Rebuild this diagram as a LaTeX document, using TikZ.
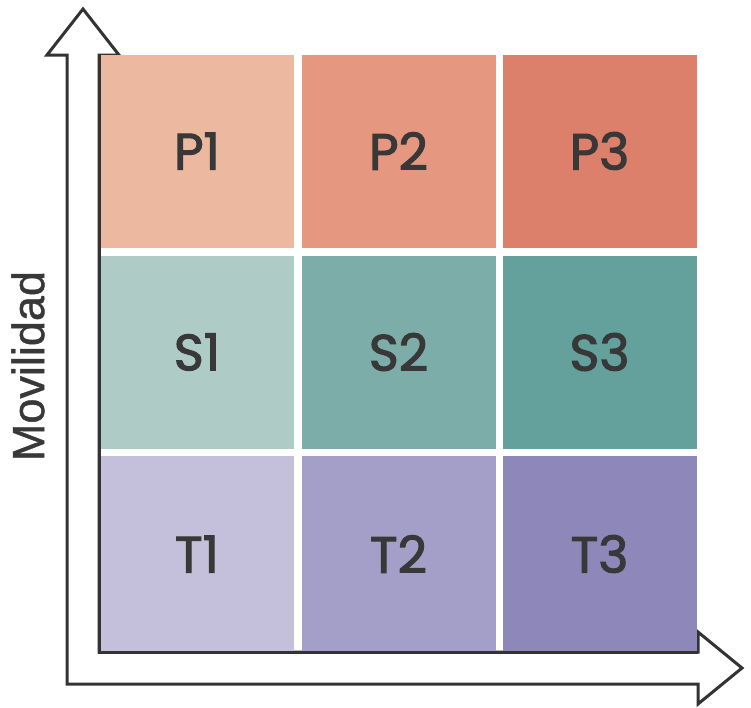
\documentclass[tikz,border=0pt]{standalone}
\usepackage{fontspec}
\setmainfont{Liberation Sans}[FakeBold=1]
\newfontfamily\cellfont{Poppins}[FakeBold=2.2]
\begin{document}
\begin{tikzpicture}[x=1pt,y=-1pt,
  cell/.style={draw=none,minimum width=194pt,minimum height=193pt,inner sep=0pt,
    font=\cellfont\fontsize{51}{51}\selectfont,text=labelgray},
  axisline/.style={draw=axisgray,line width=3pt,line join=miter,fill=white}]
\definecolor{labelgray}{HTML}{383838}
\definecolor{axisgray}{HTML}{333333}
\definecolor{pA}{RGB}{236,184,160}
\definecolor{pB}{RGB}{229,152,127}
\definecolor{pC}{RGB}{220,128,107}
\definecolor{sA}{RGB}{174,203,198}
\definecolor{sB}{RGB}{124,173,168}
\definecolor{sC}{RGB}{100,161,156}
\definecolor{tA}{RGB}{196,191,219}
\definecolor{tB}{RGB}{163,159,201}
\definecolor{tC}{RGB}{141,136,185}
\useasboundingbox[fill=white] (0,0) rectangle (751,707);

% hollow L-shaped axes with arrowheads
\draw[axisline] (83,9) -- (119,55) -- (99,55) -- (99,652) -- (698,652)
  -- (698,632) -- (742,668) -- (698,704) -- (698,684) -- (67,684)
  -- (67,55) -- (47,55) -- cycle;

% grid of cells
\node[cell,fill=pA] (p1) at (197,151) {P1};
\node[cell,fill=pB] (p2) at (398.5,151) {P2};
\node[cell,fill=pC] (p3) at (599.5,151) {P3};
\node[cell,fill=sA] (s1) at (197,352) {S1};
\node[cell,fill=sB] (s2) at (398.5,352) {S2};
\node[cell,fill=sC] (s3) at (599.5,352) {S3};
\node[cell,fill=tA,minimum height=196pt] (t1) at (197,554) {T1};
\node[cell,fill=tB,minimum height=196pt] (t2) at (398.5,554) {T2};
\node[cell,fill=tC,minimum height=196pt] (t3) at (599.5,554) {T3};

% redraw inner edge of the axes over the cells
\draw[draw=axisgray,line width=3pt,line join=miter] (99,55) -- (99,652) -- (698,652);

% axis label
\node[rotate=90,font=\fontsize{45}{45}\selectfont,text=labelgray] (ylab) at (28,366) {Movilidad};
\end{tikzpicture}
\end{document}
